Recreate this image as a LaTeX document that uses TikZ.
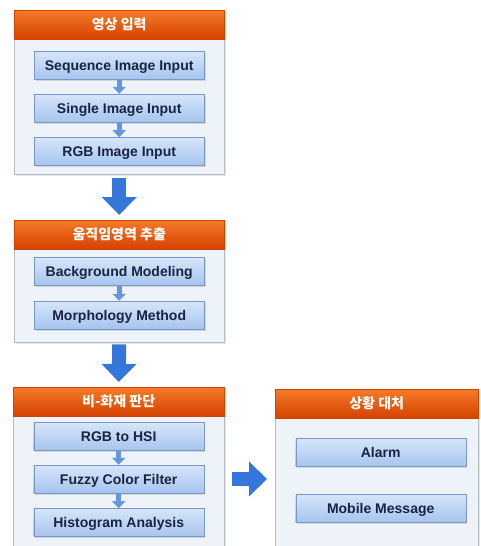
\documentclass[tikz,border=0pt]{standalone}
\usepackage{fontspec}
\setmainfont{Liberation Sans}
\newfontfamily\kor{Noto Sans CJK KR}
\usetikzlibrary{positioning}
\usetikzlibrary{arrows.meta}
\usetikzlibrary{shadows}
\definecolor{framefill}{RGB}{238,243,250}
\definecolor{framedraw}{RGB}{180,188,198}
\definecolor{headtop}{RGB}{246,122,40}
\definecolor{headbot}{RGB}{212,66,0}
\definecolor{steptop}{RGB}{214,230,250}
\definecolor{stepbot}{RGB}{166,196,238}
\definecolor{stepdraw}{RGB}{120,150,200}
\definecolor{steptext}{RGB}{26,35,64}
\definecolor{arrowblue}{RGB}{52,118,218}
\definecolor{smallblue}{RGB}{100,150,226}

\begin{document}
\begin{tikzpicture}[x=1pt, y=-1pt,
    frame/.style={draw=framedraw, fill=framefill, anchor=north west, inner sep=0pt,
        drop shadow={shadow xshift=2pt, shadow yshift=-2pt, opacity=0.2}},
    header/.style={draw=headbot, top color=headtop, bottom color=headbot, anchor=north,
        minimum width=210pt, minimum height=29pt, inner sep=0pt, text=white,
        font=\kor\bfseries\fontsize{14}{14}\selectfont},
    stepbox/.style={draw=stepdraw, top color=steptop, bottom color=stepbot,
        minimum width=170pt, minimum height=28pt, inner sep=0pt, text=steptext,
        text height=10pt, text depth=0pt,
        font=\bfseries\fontsize{14}{14}\selectfont,
        drop shadow={shadow xshift=1.5pt, shadow yshift=-1.5pt, opacity=0.25}},
    bigarrow/.style={-{Triangle[length=18pt,width=34pt]}, line width=14pt, arrowblue},
    smallarrow/.style={-{Triangle[length=7pt,width=13pt]}, line width=5pt, smallblue}]
    \useasboundingbox (0,0) rectangle (480,546);

    % 영상 입력
    \node[frame, minimum width=210pt, minimum height=164pt] (f1) at (14,10) {};
    \node[header] (h1) at (f1.north) {영상 입력};
    \node[stepbox, below=12pt of h1] (s1a) {Sequence Image Input};
    \node[stepbox, below=14pt of s1a] (s1b) {Single Image Input};
    \node[stepbox, below=15pt of s1b] (s1c) {RGB Image Input};
    \draw[smallarrow] (s1a) -- (s1b);
    \draw[smallarrow] (s1b) -- (s1c);

    % 움직임영역 추출
    \node[frame, minimum width=210pt, minimum height=122pt] (f2) at (14,220) {};
    \node[header] (h2) at (f2.north) {움직임영역 추출};
    \node[stepbox, below=8pt of h2] (s2a) {Background Modeling};
    \node[stepbox, below=15pt of s2a] (s2b) {Morphology Method};
    \draw[smallarrow] (s2a) -- (s2b);

    % 비-화재 판단
    \node[frame, minimum width=211pt, minimum height=175pt] (f3) at (13,387) {};
    \node[header, minimum width=211pt] (h3) at (f3.north) {비-화재 판단};
    \node[stepbox, below=6pt of h3] (s3a) {RGB to HSI};
    \node[stepbox, below=14pt of s3a] (s3b) {Fuzzy Color Filter};
    \node[stepbox, below=15pt of s3b] (s3c) {Histogram Analysis};
    \draw[smallarrow] (s3a) -- (s3b);
    \draw[smallarrow] (s3b) -- (s3c);

    % 상황 대처
    \node[frame, minimum width=203pt, minimum height=175pt] (f4) at (275,389) {};
    \node[header, minimum width=203pt] (h4) at (f4.north) {상황 대처};
    \node[stepbox, below=20pt of h4, xshift=4pt] (s4a) {Alarm};
    \node[stepbox, below=27pt of s4a] (s4b) {Mobile Message};

    \draw[bigarrow, shorten <=4pt, shorten >=5pt] (f1.south) -- (h2.north);
    \draw[bigarrow, shorten <=2pt, shorten >=5pt] (f2.south) -- (h3.north);
    \draw[bigarrow, shorten <=8pt, shorten >=8pt] (s3b.east -| f3.east) -- (s3b.east -| f4.west);
\end{tikzpicture}
\end{document}
